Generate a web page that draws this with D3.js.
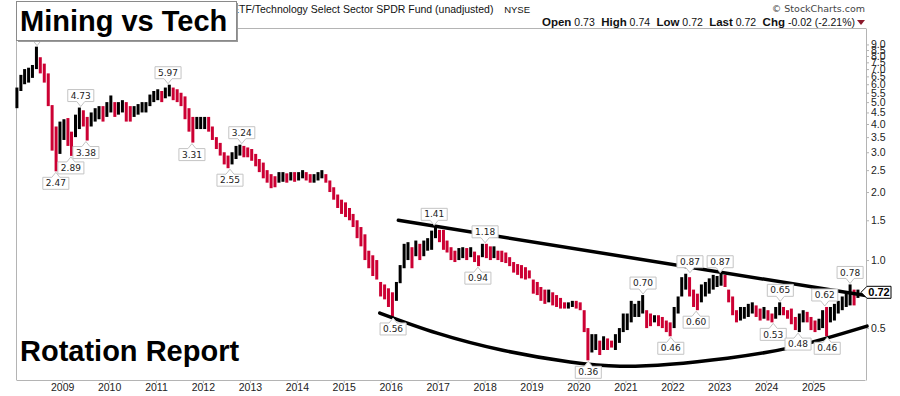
<!DOCTYPE html>
<html>
<head>
<meta charset="utf-8">
<script src="https://d3js.org/d3.v7.min.js"></script>
<style>
  body { margin: 0; background: #fff; }
  svg { display: block; }
  .axis text { font-family: "Liberation Sans", Arial, sans-serif; font-size: 10.5px; fill: #222; }
  .axis path, .axis line { stroke: #b4b4b4; }
  .lbl text { font-family: "DejaVu Sans", Verdana, sans-serif; font-size: 9px; fill: #222; }
  .lbl path { fill: #fff; stroke: #c4c4c4; }
  .hdr { font-family: "Liberation Sans", Arial, sans-serif; font-size: 10.5px; fill: #111; }
</style>
</head>
<body>
<script>
// monthly bars, Jan 2008 .. Dec 2025 (ratio XME:XLK)
var firstMonth = "2008-01-15";
var hi = [
  5.8,6.6,7.0,7.1,7.3,8.8,7.9,7.4,6.7,4.85,3.9,4.1,        // 2008
  4.2,4.25,3.7,4.4,4.73,4.6,4.3,4.5,4.7,4.8,4.8,5.0,      // 2009
  5.35,5.0,5.0,5.1,5.0,4.8,4.8,4.9,5.0,5.0,5.4,5.6,       // 2010
  5.7,5.6,5.8,5.97,5.8,5.7,5.5,5.3,4.7,4.3,4.3,4.3,       // 2011
  4.3,4.3,3.9,3.5,3.3,3.0,2.9,3.0,3.2,3.24,3.2,3.15,      // 2012
  3.1,2.95,2.8,2.7,2.5,2.4,2.35,2.45,2.45,2.42,2.45,2.45, // 2013
  2.45,2.5,2.45,2.4,2.4,2.45,2.5,2.4,2.25,2.1,1.95,1.85,  // 2014
  1.8,1.7,1.6,1.5,1.4,1.3,1.1,1.05,1.0,0.8,0.78,0.75,     // 2015
  0.72,0.8,0.95,1.18,1.2,1.14,1.22,1.18,1.22,1.25,1.35,1.41, // 2016
  1.36,1.36,1.22,1.14,1.1,1.13,1.14,1.13,1.14,1.09,1.05,1.18, // 2017
  1.18,1.15,1.15,1.1,1.1,1.08,1.03,0.98,0.96,0.95,0.93,0.9,   // 2018
  0.82,0.8,0.76,0.74,0.74,0.72,0.7,0.68,0.65,0.65,0.66,0.66,  // 2019
  0.65,0.6,0.5,0.47,0.47,0.44,0.46,0.45,0.44,0.47,0.5,0.58,   // 2020
  0.58,0.66,0.64,0.66,0.70,0.6,0.58,0.57,0.57,0.56,0.54,0.53, // 2021
  0.62,0.69,0.84,0.87,0.84,0.74,0.71,0.78,0.8,0.83,0.86,0.85, // 2022
  0.87,0.86,0.74,0.69,0.6,0.62,0.62,0.64,0.65,0.63,0.61,0.62, // 2023
  0.6,0.58,0.62,0.65,0.62,0.6,0.61,0.56,0.58,0.6,0.59,0.56,   // 2024
  0.54,0.55,0.6,0.62,0.62,0.64,0.66,0.69,0.71,0.78,0.74,0.74  // 2025
];
var lo = [
  4.7,5.6,6.0,6.1,6.4,7.0,6.7,6.1,4.8,3.05,2.47,2.95,
  3.4,3.2,2.89,3.5,3.8,3.9,3.38,3.9,4.1,4.2,4.1,4.3,
  4.5,4.3,4.4,4.5,4.1,4.1,4.3,4.4,4.5,4.5,4.8,5.0,
  5.1,5.0,5.2,5.3,5.1,5.0,4.8,4.2,3.7,3.31,3.8,3.8,
  3.8,3.7,3.4,3.1,2.9,2.65,2.55,2.65,2.8,2.9,2.85,2.85,
  2.75,2.6,2.45,2.3,2.2,2.08,2.1,2.2,2.22,2.2,2.25,2.22,
  2.25,2.3,2.25,2.2,2.2,2.25,2.3,2.2,2.0,1.85,1.7,1.6,
  1.55,1.5,1.4,1.25,1.15,1.0,0.92,0.85,0.82,0.69,0.67,0.62,
  0.56,0.66,0.79,0.92,1.0,0.92,1.04,1.0,1.04,1.1,1.11,1.25,
  1.2,1.11,1.08,1.0,0.98,1.0,1.02,1.0,1.03,0.98,0.94,1.03,
  1.02,1.0,1.02,1.0,0.98,0.97,0.94,0.88,0.86,0.83,0.82,0.83,
  0.71,0.7,0.66,0.64,0.65,0.63,0.62,0.61,0.61,0.61,0.62,0.61,
  0.6,0.48,0.36,0.39,0.4,0.38,0.4,0.4,0.41,0.4,0.43,0.48,
  0.49,0.53,0.56,0.56,0.58,0.5,0.51,0.53,0.51,0.5,0.48,0.46,
  0.5,0.58,0.69,0.74,0.69,0.62,0.6,0.65,0.69,0.71,0.74,0.76,
  0.77,0.76,0.65,0.57,0.53,0.54,0.55,0.56,0.58,0.56,0.54,0.55,
  0.54,0.53,0.55,0.57,0.57,0.55,0.52,0.49,0.48,0.53,0.53,0.49,
  0.48,0.49,0.5,0.46,0.53,0.54,0.58,0.6,0.62,0.63,0.63,0.68
];

// pivot labels (the 2008 top sits under the title box: only its pointer shows)
var pivotDates = ["2008-06-20","2008-11-13","2009-03-10","2009-05-26","2009-07-05","2011-04-05","2011-10-08",
  "2012-07-30","2012-10-30","2016-01-20","2016-12-05","2017-11-10","2018-01-05","2020-03-18",
  "2021-05-18","2021-12-20","2022-05-18","2022-07-05","2023-01-08","2024-02-25","2024-04-20",
  "2024-09-05","2025-04-01","2025-04-20","2025-10-15"];
var pivotValues = [8.8,2.47,2.89,4.73,3.38,5.97,3.31,2.55,3.24,0.56,1.41,0.94,1.18,0.36,
  0.70,0.46,0.87,0.60,0.87,0.53,0.65,0.48,0.62,0.46,0.78];
var pivotSide = ["H","L","L","H","L","H","L","L","H","L","H","L","H","L",
  "H","L","H","L","H","L","H","L","H","L","H"];

// hand drawn trend lines
var topLine = [{ date: "2016-03-01", v: 1.50 }, { date: "2026-04-27", v: 0.686 }];
var bottomCurve = [
  { date: "2015-10-08", v: 0.583 }, { date: "2016-12-28", v: 0.475 }, { date: "2018-05-22", v: 0.399 },
  { date: "2019-10-27", v: 0.354 }, { date: "2020-11-20", v: 0.339 }, { date: "2021-12-14", v: 0.346 },
  { date: "2023-03-05", v: 0.368 }, { date: "2024-07-26", v: 0.412 }, { date: "2026-02-24", v: 0.510 }
];

var yTicks = d3.range(0.5, 9.01, 0.5);
var yearTicks = d3.range(2009, 2026);
var lastValue = 0.72;

var W = 900, H = 396;
var parse = d3.timeParse("%Y-%m-%d");

var svg = d3.select("body").append("svg")
  .attr("width", W)
  .attr("height", H);

var x = d3.scaleTime()
  .domain([new Date(2008, 0, 8), new Date(2026, 1, 8)])
  .range([16, 865]);

var y = d3.scaleLog()
  .domain([0.2946, 10.64])
  .range([380, 28]);

var bars = hi.map(function(h, i) {
  return { date: d3.timeMonth.offset(parse(firstMonth), i), hi: h, lo: lo[i] };
});
bars.forEach(function(d, i) {
  var prev = i ? bars[i - 1] : d;
  d.up = (d.hi + d.lo) >= (prev.hi + prev.lo);
});

// frame
svg.append("line").attr("x1", 16).attr("x2", 866).attr("y1", 28.5).attr("y2", 28.5).attr("stroke", "#b4b4b4");
svg.append("line").attr("x1", 16.5).attr("x2", 16.5).attr("y1", 28).attr("y2", 380).attr("stroke", "#b4b4b4");

svg.append("g")
  .attr("class", "axis")
  .attr("transform", "translate(0,380)")
  .call(d3.axisBottom(x)
    .tickValues(yearTicks.map(function(yr) { return new Date(yr, 0, 1); }))
    .tickFormat(d3.timeFormat("%Y"))
    .tickSize(3).tickSizeOuter(0).tickPadding(1));

svg.append("g")
  .attr("class", "axis")
  .attr("transform", "translate(866,0)")
  .call(d3.axisRight(y)
    .tickValues(yTicks)
    .tickFormat(d3.format(".1f"))
    .tickSize(3).tickSizeOuter(0).tickPadding(2));

// price bars
svg.append("g")
  .selectAll("rect")
  .data(bars)
  .enter().append("rect")
  .attr("x", function(d) { return x(d.date) - 1.5; })
  .attr("width", 3)
  .attr("y", function(d) { return y(d.hi); })
  .attr("height", function(d) { return Math.max(1, y(d.lo) - y(d.hi)); })
  .attr("fill", function(d) { return d.up ? "#000" : "#cc0033"; });

// trend lines
var tl = d3.line()
  .x(function(d) { return x(parse(d.date)); })
  .y(function(d) { return y(d.v); });

svg.append("path")
  .attr("d", tl(topLine))
  .attr("fill", "none").attr("stroke", "#000").attr("stroke-width", 3.5).attr("stroke-linecap", "round");

svg.append("path")
  .attr("d", tl.curve(d3.curveNatural)(bottomCurve))
  .attr("fill", "none").attr("stroke", "#000").attr("stroke-width", 3.5).attr("stroke-linecap", "round");

// pivot callouts
pivotDates.forEach(function(ds, i) {
  var cx = x(parse(ds)), v = pivotValues[i], up = pivotSide[i] === "H";
  var g = svg.append("g").attr("class", "lbl");
  var tip = up ? y(v) - 1 : y(v) + 1;
  var edge = up ? tip - 5 : tip + 5;
  var far = up ? edge - 12 : edge + 12;
  var hidden = cx < 240 && Math.max(edge, far) < 42;   // covered by the title box
  var w = 26;
  if (!hidden) {
    var t = g.append("text")
      .attr("x", cx)
      .attr("y", (edge + far) / 2)
      .attr("dy", "0.35em")
      .attr("text-anchor", "middle")
      .text(d3.format(".2f")(v));
    w = t.node().getComputedTextLength() + 6;
  }
  g.insert("path", "text")
    .attr("d", "M" + (cx - w / 2) + "," + far + "H" + (cx + w / 2) + "V" + edge +
      "H" + (cx + 4) + "L" + cx + "," + tip + "L" + (cx - 4) + "," + edge + "H" + (cx - w / 2) + "Z");
});

// last price tag
var ly = y(lastValue);
svg.append("path")
  .attr("d", "M861," + ly + "L867," + (ly - 6) + "H891V" + (ly + 6) + "H867Z")
  .attr("fill", "#fff").attr("stroke", "#000");
svg.append("text")
  .attr("x", 879).attr("y", ly).attr("dy", "0.36em")
  .attr("text-anchor", "middle")
  .style("font-family", "Liberation Sans, Arial, sans-serif")
  .style("font-size", "11px").style("font-weight", "bold")
  .text(d3.format(".2f")(lastValue));

// header
svg.append("text").attr("class", "hdr").attr("x", 232).attr("y", 13)
  .text("ETF/Technology Select Sector SPDR Fund (unadjusted)");
svg.append("text").attr("class", "hdr").attr("x", 530).attr("y", 13).attr("text-anchor", "end")
  .style("font-size", "9.5px").text("NYSE");
svg.append("text").attr("x", 865).attr("y", 12).attr("text-anchor", "end")
  .style("font-family", "DejaVu Sans, Verdana, sans-serif").style("font-size", "9.5px").style("fill", "#444")
  .text("\u00a9 StockCharts.com");

var quote = [["Open", "0.73"], ["High", "0.74"], ["Low", "0.72"], ["Last", "0.72"], ["Chg", "-0.02 (-2.21%)"]];
var q = svg.append("text").attr("class", "hdr").attr("x", 855).attr("y", 26).attr("text-anchor", "end")
  .attr("xml:space", "preserve").style("font-size", "10.5px");
quote.forEach(function(p, i) {
  q.append("tspan").style("font-weight", "bold").style("font-size", "11.5px").text((i ? "  " : "") + p[0]);
  q.append("tspan").text(" " + p[1]);
});
svg.append("path").attr("d", "M857,20L865,20L861,25Z").attr("fill", "#8b1a2b");

// title boxes
svg.append("rect").attr("x", 18).attr("y", 3).attr("width", 220).attr("height", 39).attr("fill", "#9a9a9a");
svg.append("rect").attr("x", 16.5).attr("y", 1.5).attr("width", 220).attr("height", 39)
  .attr("fill", "#fff").attr("stroke", "#8a8a8a");
svg.append("text").attr("x", 20).attr("y", 31)
  .style("font-family", "Liberation Sans, Arial, sans-serif").style("font-size", "29px").style("font-weight", "bold")
  .text("Mining vs Tech");
svg.append("text").attr("x", 20).attr("y", 361)
  .style("font-family", "Liberation Sans, Arial, sans-serif").style("font-size", "29px").style("font-weight", "bold")
  .text("Rotation Report");
</script>
</body>
</html>
